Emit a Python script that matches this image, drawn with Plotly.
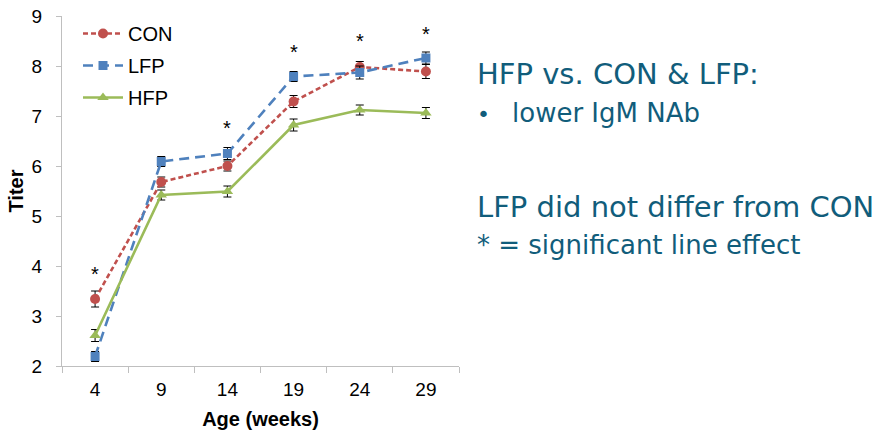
import plotly.graph_objects as go

ages = ["4", "9", "14", "19", "24", "29"]
con = [3.34, 5.68, 6.00, 7.29, 7.98, 7.89]
con_err = [0.16, 0.10, 0.10, 0.12, 0.11, 0.14]
lfp = [2.19, 6.09, 6.25, 7.79, 7.87, 8.16]
lfp_err = [0.10, 0.10, 0.12, 0.10, 0.13, 0.12]
hfp = [2.61, 5.42, 5.49, 6.82, 7.12, 7.06]
hfp_err = [0.12, 0.10, 0.11, 0.12, 0.10, 0.11]
star_ages = ["4", "14", "19", "24", "29"]
star_y = [3.85, 6.77, 8.29, 8.50, 8.65]

RED = "#C0504D"
BLUE = "#4F81BD"
GREEN = "#9BBB59"
TEAL = "#115D7B"
AXIS = "#BFBFBF"

fig = go.Figure()

def add(name, y, err, color, dash, symbol, size, group):
    fig.add_trace(go.Scatter(
        x=ages, y=y, name=name, mode="lines+markers",
        legendgroup=group,
        line=dict(color=color, width=2.6, dash=dash),
        marker=dict(color=color, symbol=symbol, size=size),
        error_y=dict(type="data", array=err, visible=True,
                     color="#000000", thickness=1, width=4),
    ))

add("CON", con, con_err, RED, "5px,3px", "circle", 10, "a")
add("LFP", lfp, lfp_err, BLUE, "10px,6px", "square", 9, "b")
add("HFP", hfp, hfp_err, GREEN, "solid", "triangle-up", 10, "c")

annotations = []
for a, yv in zip(star_ages, star_y):
    annotations.append(dict(x=ages.index(a), y=yv, xref="x", yref="y", text="*",
                            showarrow=False,
                            font=dict(family="Liberation Sans", size=20, color="#000000")))

PW = 822.0  # paper width in px (plot starts at x=62)
PH = 350.0  # paper height in px (plot from y=16 to 366)

def px(x):
    return (x - 62) / PW

def py(y):
    return (366 - y) / PH

right_texts = [
    ("HFP vs. CON &amp; LFP:", 475, 74, 29),
    ("•", 475, 114, 22),
    ("lower IgM NAb", 510, 113, 26),
    ("LFP did not differ from CON", 475, 207, 29),
    ("* = significant line effect", 475, 245, 26),
]
for t, x, y, s in right_texts:
    annotations.append(dict(x=px(x), y=py(y), xref="paper", yref="paper",
                            text=t, showarrow=False, xanchor="left", yanchor="middle",
                            font=dict(family="DejaVu Sans", size=s, color=TEAL)))

fig.update_layout(
    width=884, height=431,
    margin=dict(l=62, r=0, t=16, b=65),
    paper_bgcolor="white", plot_bgcolor="white",
    font=dict(family="Liberation Sans", size=19, color="#000000"),
    showlegend=True,
    legend=dict(x=px(78), y=py(14), xanchor="left", yanchor="top",
                font=dict(family="Liberation Sans", size=20, color="#000000"),
                bgcolor="rgba(0,0,0,0)", tracegroupgap=3, itemwidth=40),
    annotations=annotations,
    xaxis=dict(
        domain=[0, 397 / PW], type="category", range=[-0.5, 5.5],
        categoryorder="array", categoryarray=ages,
        showline=True, linecolor=AXIS, linewidth=1,
        ticks="outside", tickson="boundaries", ticklen=6, tickcolor=AXIS,
        showgrid=False, zeroline=False, tickangle=0,
        tickfont=dict(size=19), ticklabelstandoff=6,
        title=dict(text="<b>Age (weeks)</b>", font=dict(size=20), standoff=13),
    ),
    yaxis=dict(
        range=[2, 9], dtick=1,
        showline=True, linecolor=AXIS, linewidth=1,
        ticks="outside", ticklen=5, tickcolor=AXIS,
        showgrid=False, zeroline=False,
        tickfont=dict(size=19), ticklabelstandoff=10,
        title=dict(text="<b>Titer</b>", font=dict(size=20), standoff=2),
    ),
)

fig.write_html("out.html")
